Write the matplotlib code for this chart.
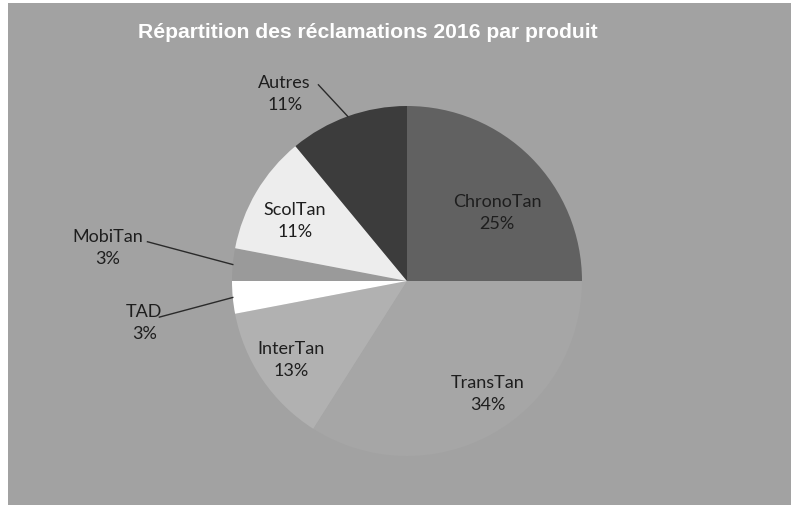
import numpy as np
import matplotlib
matplotlib.use('Agg')
import matplotlib.pyplot as plt
from matplotlib.patches import Rectangle

# Données
produits = ['ChronoTan', 'TransTan', 'InterTan', 'TAD', 'MobiTan', 'ScolTan', 'Autres']
parts = [25, 34, 13, 3, 3, 11, 11]
couleurs = ['#616161', '#a6a6a6', '#b1b1b1', '#ffffff', '#9a9a9a', '#ededed', '#3c3c3c']
titre = 'Répartition des réclamations 2016 par produit'

# Mise en page des étiquettes : (distance relative au rayon, décalage angulaire en degrés)
pos_etiquettes = {
    'ChronoTan': (0.65, -7.5),
    'TransTan': (0.79, 7.1),
    'InterTan': (0.80, -0.3),
    'TAD': (1.52, 3.5),
    'MobiTan': (1.72, -1.1),
    'ScolTan': (0.73, 2.2),
    'Autres': (1.28, 13.3),
}
# Lignes de rappel : point de départ côté étiquette (distance, décalage angulaire)
rappels = {
    'Autres': (1.23, 4.5),
    'MobiTan': (1.50, -3.2),
    'TAD': (1.43, 2.9),
}

W, H = 795, 506
fig = plt.figure(figsize=(W / 100, H / 100), dpi=100, facecolor='white')

ax = fig.add_axes([0, 0, 1, 1])
# fond gris de la zone du graphique
ax.add_patch(Rectangle((8, 0), 791 - 8, 506 - 4, facecolor='#a2a2a2',
                       edgecolor='none', zorder=0))

cx, cy, r = 407, H - 282, 175
wedges, _ = ax.pie(parts, colors=couleurs, startangle=90, counterclock=False,
                   center=(cx, cy), radius=r, wedgeprops=dict(linewidth=0),
                   frame=True)
for w in wedges:
    w.set_zorder(1)
ax.set_xlim(0, W)
ax.set_ylim(0, H)
ax.set_aspect('equal')
ax.axis('off')

police = 'Lato'
for w, nom, p in zip(wedges, produits, parts):
    mid = (w.theta1 + w.theta2) / 2
    d, off = pos_etiquettes[nom]
    a = np.radians(mid + off)
    tx, ty = cx + d * r * np.cos(a), cy + d * r * np.sin(a)
    ax.text(tx, ty, f'{nom}\n{p}%', ha='center', va='center', fontsize=13,
            family=police, color='#1e1e1e', linespacing=1.45, zorder=3)
    if nom in rappels:
        d2, off2 = rappels[nom]
        a2 = np.radians(mid + off2)
        m = np.radians(mid)
        x0, y0 = cx + d2 * r * np.cos(a2), cy + d2 * r * np.sin(a2)
        x1, y1 = cx + r * np.cos(m), cy + r * np.sin(m)
        ax.plot([x0, x1], [y0, y1], color='#2a2a2a', lw=1, zorder=2)

fig.text(368 / W, 1 - 33 / H, titre, ha='center', va='center', color='white',
         fontsize=15.2, fontweight='bold', family='Liberation Sans')

fig.savefig('out.png', dpi=100, facecolor='white')
